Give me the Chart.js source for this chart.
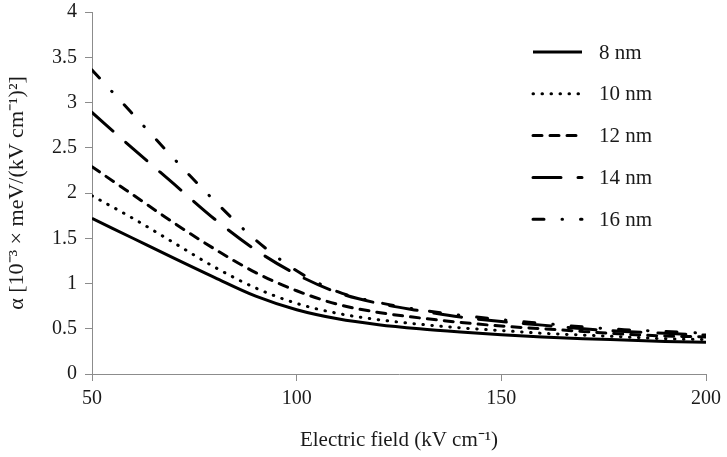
<!DOCTYPE html>
<html>
<head>
<meta charset="utf-8">
<script src="https://cdn.jsdelivr.net/npm/chart.js@4.4.1/dist/chart.umd.min.js"></script>
<style>
  html, body { margin: 0; padding: 0; background: #fff; }
  #wrap { width: 727px; height: 457px; }
</style>
</head>
<body>
<div id="wrap"><canvas id="chart" width="727" height="457"></canvas></div>
<script>
// electric field (kV/cm)
const fields = [50, 60, 70, 80, 90, 100, 110, 120, 130, 140, 150, 160, 170, 180, 190, 200];

const nm8  = [1.72, 1.50, 1.28, 1.065, 0.86, 0.71, 0.61, 0.545, 0.50, 0.465, 0.435, 0.41, 0.39, 0.375, 0.36, 0.35];
const nm10 = [1.97, 1.72, 1.45, 1.18, 0.95, 0.78, 0.67, 0.60, 0.55, 0.51, 0.48, 0.45, 0.43, 0.41, 0.39, 0.38];
const nm12 = [2.29, 1.98, 1.67, 1.38, 1.12, 0.92, 0.77, 0.68, 0.62, 0.57, 0.53, 0.50, 0.47, 0.44, 0.42, 0.41];
const nm14 = [2.89, 2.49, 2.10, 1.71, 1.37, 1.10, 0.90, 0.78, 0.70, 0.63, 0.58, 0.54, 0.50, 0.47, 0.45, 0.43];
const nm16 = [3.36, 2.87, 2.38, 1.91, 1.48, 1.14, 0.91, 0.79, 0.71, 0.65, 0.60, 0.56, 0.52, 0.49, 0.47, 0.45];

const xTicks = [50, 100, 150, 200];
const yTicks = [0, 0.5, 1, 1.5, 2, 2.5, 3, 3.5, 4];

const FONT = '"Liberation Serif", "Times New Roman", serif';
const AXIS = '#8c8c8c';
const INK = '#1a1a1a';

function pts(vals) {
  return fields.map((x, i) => ({ x, y: vals[i] }));
}

function line(label, vals, dash, cap) {
  return {
    label,
    data: pts(vals),
    borderColor: '#000',
    backgroundColor: '#000',
    borderWidth: 3,
    borderDash: dash,
    borderCapStyle: cap,
    pointRadius: 0,
    cubicInterpolationMode: 'monotone',
    fill: false
  };
}

const datasets = [
  line('8 nm', nm8, [], 'butt'),
  line('10 nm', nm10, [0.5, 8.5], 'round'),
  line('12 nm', nm12, [9, 8], 'round'),
  line('14 nm', nm14, [28, 17], 'round'),
  line('16 nm', nm16, [11, 18, 0.5, 18], 'round')
];

// legend drawn by hand so the dash patterns show like the original
const legendLines = {
  id: 'legendLines',
  afterDraw(chart) {
    const ctx = chart.ctx;
    ctx.save();
    chart.data.datasets.forEach((ds, i) => {
      const y = 52 + i * 41.8;
      ctx.beginPath();
      ctx.lineWidth = ds.borderWidth;
      ctx.strokeStyle = ds.borderColor;
      ctx.lineCap = ds.borderCapStyle;
      ctx.setLineDash(ds.borderDash);
      ctx.moveTo(533, y);
      ctx.lineTo(582, y);
      ctx.stroke();
      ctx.setLineDash([]);
      ctx.fillStyle = INK;
      ctx.font = '21px ' + FONT;
      ctx.textBaseline = 'middle';
      ctx.textAlign = 'left';
      ctx.fillText(ds.label, 599, y + 1);
    });
    ctx.restore();
  }
};

new Chart(document.getElementById('chart'), {
  type: 'line',
  data: { datasets },
  options: {
    responsive: false,
    animation: false,
    layout: { padding: { top: 12, right: 20, left: 0, bottom: 0 } },
    plugins: {
      legend: { display: false },
      tooltip: { enabled: false }
    },
    scales: {
      x: {
        type: 'linear',
        min: 50,
        max: 200,
        afterBuildTicks: s => { s.ticks = xTicks.map(v => ({ value: v })); },
        afterFit: s => { s.height = 83; },
        border: { display: true, color: AXIS, width: 1 },
        grid: { drawOnChartArea: false, drawTicks: true, tickLength: 7, color: AXIS, tickColor: AXIS, tickWidth: 1 },
        ticks: { color: INK, font: { family: FONT, size: 20 }, padding: 6, maxRotation: 0 },
        title: {
          display: true,
          text: 'Electric field (kV cm\u207B\u00B9)',
          color: INK,
          font: { family: FONT, size: 21 },
          padding: { top: 6 }
        }
      },
      y: {
        min: 0,
        max: 4,
        afterBuildTicks: s => { s.ticks = yTicks.map(v => ({ value: v })); },
        afterFit: s => { s.width = 92; s.paddingTop = 0; s.paddingBottom = 0; },
        border: { display: true, color: AXIS, width: 1 },
        grid: { drawOnChartArea: false, drawTicks: true, tickLength: 7, color: AXIS, tickColor: AXIS, tickWidth: 1 },
        ticks: { color: INK, font: { family: FONT, size: 20 }, padding: 8, callback: v => String(v) },
        title: {
          display: true,
          text: '\u03B1 [10\u207B\u00B3 \u00D7 meV/(kV cm\u207B\u00B9)\u00B2]',
          color: INK,
          font: { family: FONT, size: 22 },
          padding: { bottom: 2 }
        }
      }
    }
  },
  plugins: [legendLines]
});
</script>
</body>
</html>
